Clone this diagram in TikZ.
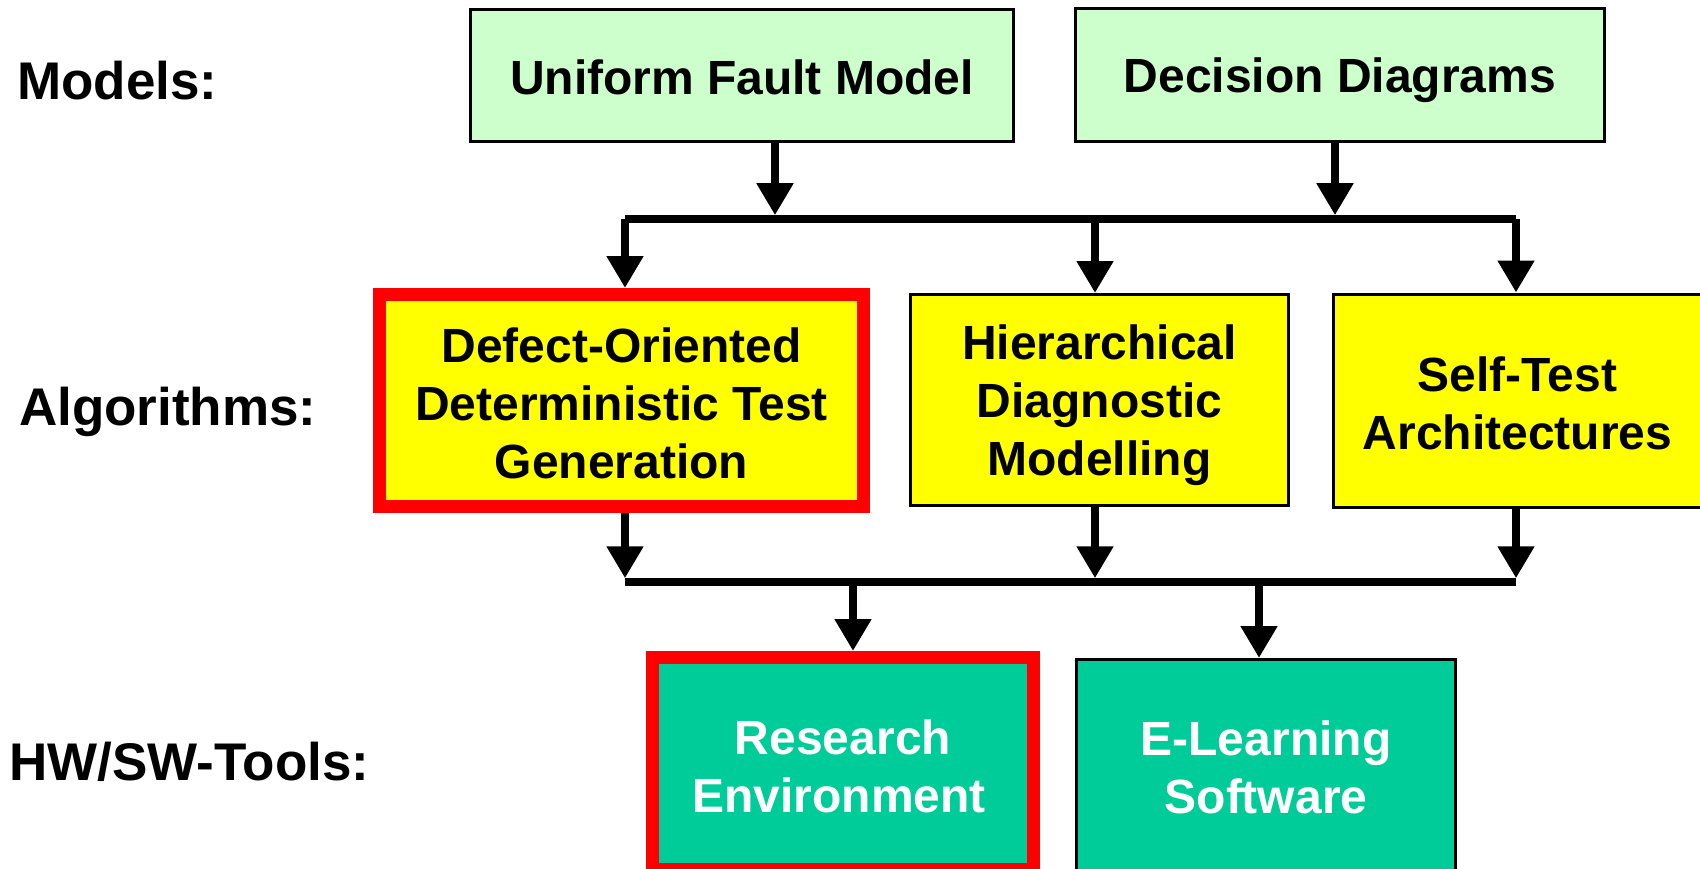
\documentclass[tikz,border=0pt]{standalone}
\usepackage{fontspec}
\setmainfont{Liberation Sans}
\usetikzlibrary{arrows.meta}
\definecolor{modelgreen}{HTML}{CCFFCC}
\definecolor{algoyellow}{HTML}{FFFF00}
\definecolor{tooltea}{HTML}{00CC99}
\definecolor{keyred}{HTML}{FF0000}
% fixed first-line height and last-line depth, so every box text sits alike
\newcommand{\bxstrut}{\rule[-6pt]{0pt}{51pt}}
\begin{document}
\begin{tikzpicture}[x=1pt,y=-1pt,
  box/.style={draw=black, line width=3pt, inner sep=0pt, align=center,
    font=\fontsize{48}{58}\selectfont\bfseries},
  keybox/.style={box, draw=keyred, line width=13pt},
  lbl/.style={anchor=base west, inner sep=0pt,
    font=\fontsize{53}{63}\selectfont\bfseries},
  arr/.style={line width=8pt, -{Triangle[width=35pt,length=32pt]}},
  bar/.style={line width=7.5pt}]
\useasboundingbox (0,0) rectangle (1700,869);

% row labels
\node[lbl] (lm) at (17,100) {Models:};
\node[lbl] (la) at (19,425) {Algorithms:};
\node[lbl] (lt) at (9,780) {HW/SW-Tools:};

% models
\node[box, fill=modelgreen, minimum width=543pt, minimum height=132pt] (uf) at (742,75.5) {\bxstrut Uniform Fault Model\bxstrut};
\node[box, fill=modelgreen, minimum width=529pt, minimum height=133pt] (dd) at (1340,75) {\bxstrut Decision Diagrams\bxstrut};

% algorithms
\node[keybox, fill=algoyellow, minimum width=484pt, minimum height=212pt] (dt) at (621.5,400.5) {\bxstrut Defect-Oriented\\Deterministic Test\\Generation\bxstrut};
\node[box, fill=algoyellow, minimum width=378pt, minimum height=211pt] (hd) at (1099.5,400) {\bxstrut Hierarchical\\Diagnostic\\Modelling\bxstrut};
\node[box, fill=algoyellow, minimum width=368pt, minimum height=213pt] (st) at (1517.5,400.5) {\bxstrut Self-Test\\Architectures\bxstrut};

% tools
\node[keybox, fill=tooltea, text=white, minimum width=381pt, minimum height=212pt] (re) at (843,763.5) {\bxstrut Research\\Environment\hspace*{8pt}\bxstrut};
\node[box, fill=tooltea, text=white, minimum width=379pt, minimum height=211pt] (el) at (1266,765) {\bxstrut E-Learning\\Software\bxstrut};

% junctions on the two distribution bars
\coordinate (j1) at (775,219);
\coordinate (j2) at (1335,219);
\coordinate (j3) at (625,219);
\coordinate (j4) at (1095,219);
\coordinate (j5) at (1516,219);
\coordinate (k1) at (625,582);
\coordinate (k2) at (1095,582);
\coordinate (k3) at (1516,582);
\coordinate (k4) at (853,582);
\coordinate (k5) at (1259,582);

% models -> algorithms
\draw[bar] (j3) -- (j5);
\draw[arr, shorten >=3.75pt] (uf.south -| j1) -- (j1);
\draw[arr, shorten >=3.75pt] (dd.south -| j2) -- (j2);
\foreach \j/\n in {j3/dt, j4/hd, j5/st}
  \draw[arr] (\j) -- (\j |- \n.north);

% algorithms -> tools
\draw[bar] (k1) -- (k3);
\foreach \k/\n in {k1/dt, k2/hd, k3/st}
  \draw[arr, shorten >=3.75pt] (\n.south -| \k) -- (\k);
\foreach \k/\n in {k4/re, k5/el}
  \draw[arr] (\k) -- (\k |- \n.north);
\end{tikzpicture}
\end{document}
